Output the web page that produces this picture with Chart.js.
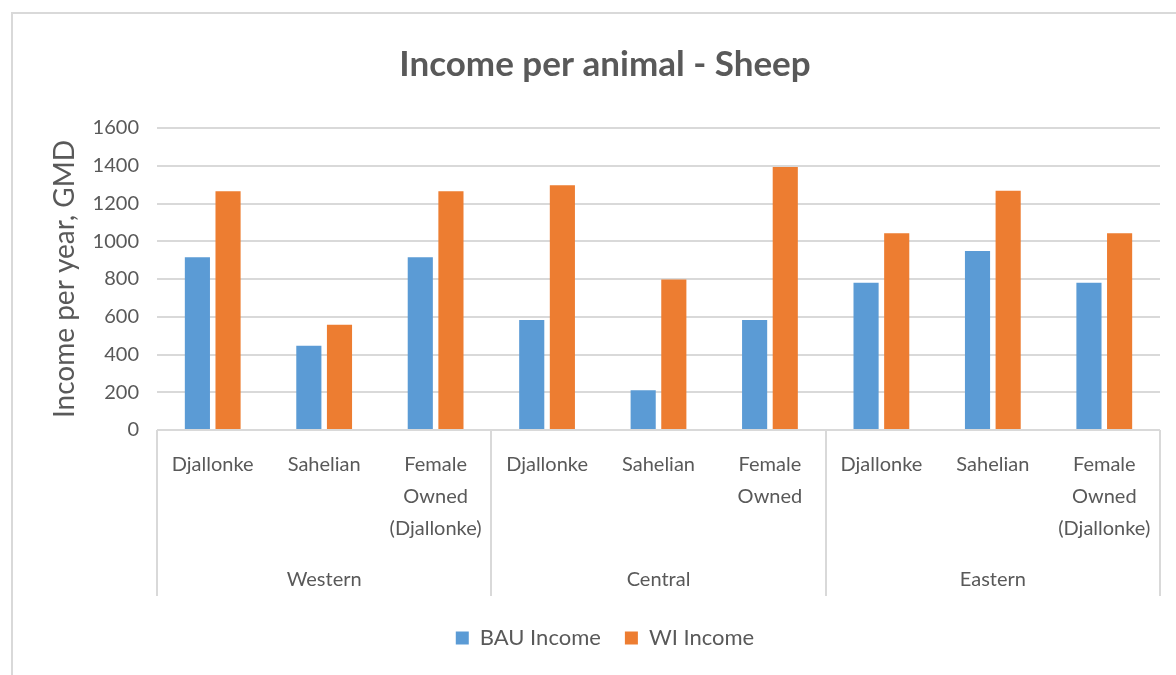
<!DOCTYPE html>
<html>
<head>
<meta charset="utf-8">
<title>Income per animal - Sheep</title>
<script src="https://cdn.jsdelivr.net/npm/chart.js@4.4.1/dist/chart.umd.min.js"></script>
<style>
  html, body { margin: 0; padding: 0; background: #fff; overflow: hidden; }
  #frame {
    position: absolute; left: 11px; top: 12px;
    width: 1200px; height: 700px;
    border: 2px solid #d9d9d9;
  }
  #wrap { position: absolute; left: 0; top: 0; width: 1176px; height: 675px; }
</style>
</head>
<body>
<div id="frame"></div>
<div id="wrap"><canvas id="myChart" width="1176" height="675"></canvas></div>
<script>
  // regions (outer axis) and breeds (inner axis, one per bar pair)
  const regions = ['Western', 'Central', 'Eastern'];
  const breeds = [
    ['Djallonke'], ['Sahelian'], ['Female', 'Owned', '(Djallonke)'],
    ['Djallonke'], ['Sahelian'], ['Female', 'Owned'],
    ['Djallonke'], ['Sahelian'], ['Female', 'Owned', '(Djallonke)']
  ];

  // values (GMD per year)
  const bauIncome = [915, 447, 915, 583, 210, 583, 780, 948, 780];
  const wiIncome = [1265, 558, 1265, 1297, 798, 1393, 1042, 1267, 1042];

  const yMin = 0;
  const yMax = 1600;
  const yStep = 200;

  const textColor = '#595959';
  const lineColor = '#d9d9d9';
  const fontFamily = "Lato, 'Open Sans', sans-serif";

  // vertical separators between region groups, spanning both label rows
  const groupLines = {
    id: 'groupLines',
    afterDraw(chart) {
      const xg = chart.scales.xg;
      const area = chart.chartArea;
      const ctx = chart.ctx;
      const n = regions.length;
      const step = (xg.right - xg.left) / n;
      const bottom = xg.top + 43;
      ctx.save();
      ctx.strokeStyle = lineColor;
      ctx.lineWidth = 2;
      for (let i = 0; i <= n; i++) {
        const x = Math.round(xg.getPixelForValue(Math.min(i, n - 1)) + (i === n ? step / 2 : -step / 2));
        ctx.beginPath();
        ctx.moveTo(x, area.bottom);
        ctx.lineTo(x, bottom);
        ctx.stroke();
      }
      ctx.restore();
    }
  };

  const ctx = document.getElementById('myChart').getContext('2d');
  new Chart(ctx, {
    type: 'bar',
    data: {
      labels: breeds,
      datasets: [
        {
          label: 'BAU Income',
          data: bauIncome,
          backgroundColor: '#5B9BD5',
          xAxisID: 'x'
        },
        {
          label: 'WI Income',
          data: wiIncome,
          backgroundColor: '#ED7D31',
          xAxisID: 'x'
        }
      ]
    },
    options: {
      responsive: false,
      animation: false,
      categoryPercentage: 0.55,
      barPercentage: 0.82,
      layout: { padding: { top: 13, left: 50, right: 16, bottom: 16 } },
      scales: {
        y: {
          min: yMin,
          max: yMax,
          ticks: {
            stepSize: yStep,
            padding: 18,
            color: textColor,
            font: { family: fontFamily, size: 20 },
            callback: v => String(v)
          },
          grid: { color: lineColor, lineWidth: 2, drawTicks: false },
          border: { display: false },
          title: {
            display: true,
            text: 'Income per year, GMD',
            color: textColor,
            font: { family: fontFamily, size: 28 },
            padding: { top: -2, bottom: 0 }
          },
          afterFit(scale) { scale.width = 107; }
        },
        x: {
          weight: 0,
          grid: { display: false },
          border: { display: false },
          ticks: {
            autoSkip: false,
            maxRotation: 0,
            padding: 11,
            color: textColor,
            font: { family: fontFamily, size: 20, lineHeight: 1.6 }
          },
          afterFit(scale) { scale.height = 123; }
        },
        xg: {
          type: 'category',
          position: 'bottom',
          weight: 1,
          labels: regions,
          offset: true,
          grid: { display: false },
          border: { display: false },
          ticks: {
            padding: 3,
            color: textColor,
            font: { family: fontFamily, size: 20, lineHeight: 1.6 }
          },
          afterFit(scale) { scale.height = 50; }
        }
      },
      plugins: {
        title: {
          display: true,
          text: 'Income per animal - Sheep',
          color: textColor,
          font: { family: fontFamily, size: 35, weight: 'bold', lineHeight: 1.2 },
          padding: { top: 31, bottom: 42 }
        },
        legend: {
          position: 'bottom',
          labels: {
            boxWidth: 13,
            boxHeight: 13,
            padding: 24,
            color: textColor,
            font: { family: fontFamily, size: 22 }
          }
        },
        tooltip: { enabled: false }
      }
    },
    plugins: [groupLines]
  });
</script>
</body>
</html>
